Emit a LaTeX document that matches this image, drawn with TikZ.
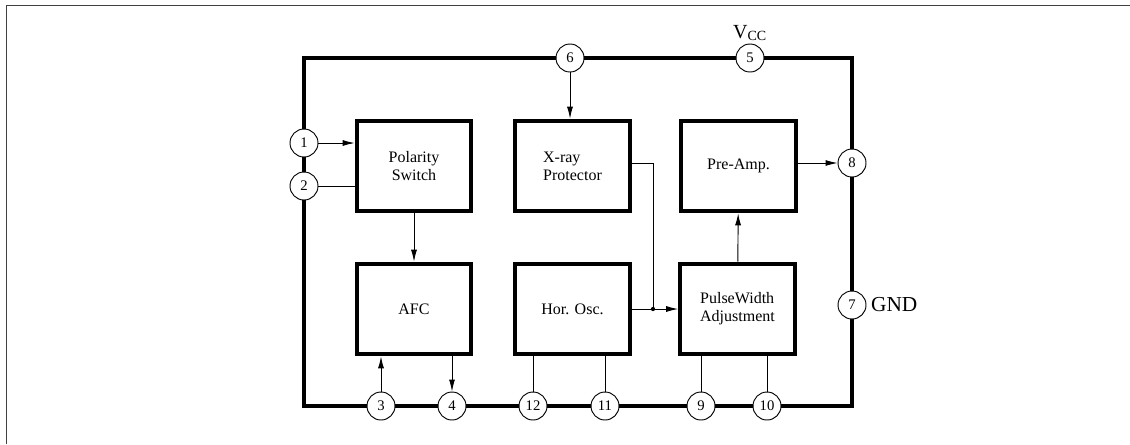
\documentclass[tikz,border=0pt]{standalone}
\usepackage{fontspec}
\setmainfont{Liberation Serif}
\usepackage{tikz}
\usetikzlibrary{arrows.meta,calc}
\pgfkeys{tikz/icchip/.style={line width=3pt,line join=miter}}
\pgfkeys{tikz/icblock/.style={draw,line width=3pt,minimum width=86pt,minimum height=68pt,inner sep=0pt,font=\fontsize{12}{13.5}\selectfont}}
\pgfkeys{tikz/icpin/.style={draw,circle,fill=white,line width=0.7pt,minimum size=21pt,inner sep=0pt,font=\fontsize{11}{12}\selectfont}}
\pgfkeys{tikz/icsig/.style={line width=0.7pt,-{Latex[length=9pt,width=4.5pt]}}}
\pgfkeys{tikz/icwire/.style={line width=0.7pt}}
\newcommand*\icpinnode[3]{
    \node[icpin] (#1) at (#2) {#3};
}

\begin{document}
\begin{tikzpicture}[x=0.75pt,y=-0.75pt]
    \useasboundingbox (0,0) rectangle (1130,444);
    \draw[black!75,line width=1.1pt] (6.5,444) -- (6.5,5.5) -- (1130,5.5);
    \draw[icchip] (304,58) rectangle (852,406);
    \node[icblock,align=center] (pol) at (414,166) {Polarity\\Switch};
    \node[icblock,align=left] (xray) at (572.5,166) {X-ray\\Protector};
    \node[icblock] (preamp) at (738.5,166) {Pre-Amp.};
    \node[icblock] (afc) at (414,309) {AFC};
    \node[icblock] (hosc) at (572.5,309) {Hor. Osc.};
    \node[icblock,align=left] (pwa) at (737.5,309) {PulseWidth\\Adjustment};
    \icpinnode{p1}{304,143}{1}
    \icpinnode{p2}{304,186}{2}
    \icpinnode{p6}{570,58}{6}
    \icpinnode{p5}{750,58}{5}
    \icpinnode{p8}{852,163}{8}
    \icpinnode{p7}{852,305}{7}
    \icpinnode{p3}{381,406}{3}
    \icpinnode{p4}{452,406}{4}
    \icpinnode{p12}{533,406}{12}
    \icpinnode{p11}{605,406}{11}
    \icpinnode{p9}{701,406}{9}
    \icpinnode{p10}{767,406}{10}
    \node[font=\fontsize{15}{16}\selectfont] (vcc) at (750,33) {V\textsubscript{CC}};
    \node[font=\fontsize{16}{17}\selectfont,anchor=west] (gnd) at (p7.east) {GND};
    \coordinate (jn) at (653,309);
    \draw[icsig] (p1) -- (p1 -| pol.west);
    \draw[icwire] (p2) -- (p2 -| pol.west);
    \draw[icsig] (p6) -- (p6 |- xray.north);
    \draw[icsig] (pol) -- (afc);
    \draw[icsig] (p3) -- (p3 |- afc.south);
    \draw[icsig] (afc.south -| p4) -- (p4);
    \draw[icwire] (hosc.south -| p12) -- (p12);
    \draw[icwire] (hosc.south -| p11) -- (p11);
    \draw[icwire] (pwa.south -| p9) -- (p9);
    \draw[icwire] (pwa.south -| p10) -- (p10);
    \draw[icsig] (hosc) -- (pwa);
    \draw[icwire] (xray.east |- p8) -| (jn);
    \fill (jn) circle (1.6pt);
    \draw[icsig] (pwa) -- (preamp);
    \draw[icsig] (preamp.east |- p8) -- (p8);
\end{tikzpicture}
\end{document}
